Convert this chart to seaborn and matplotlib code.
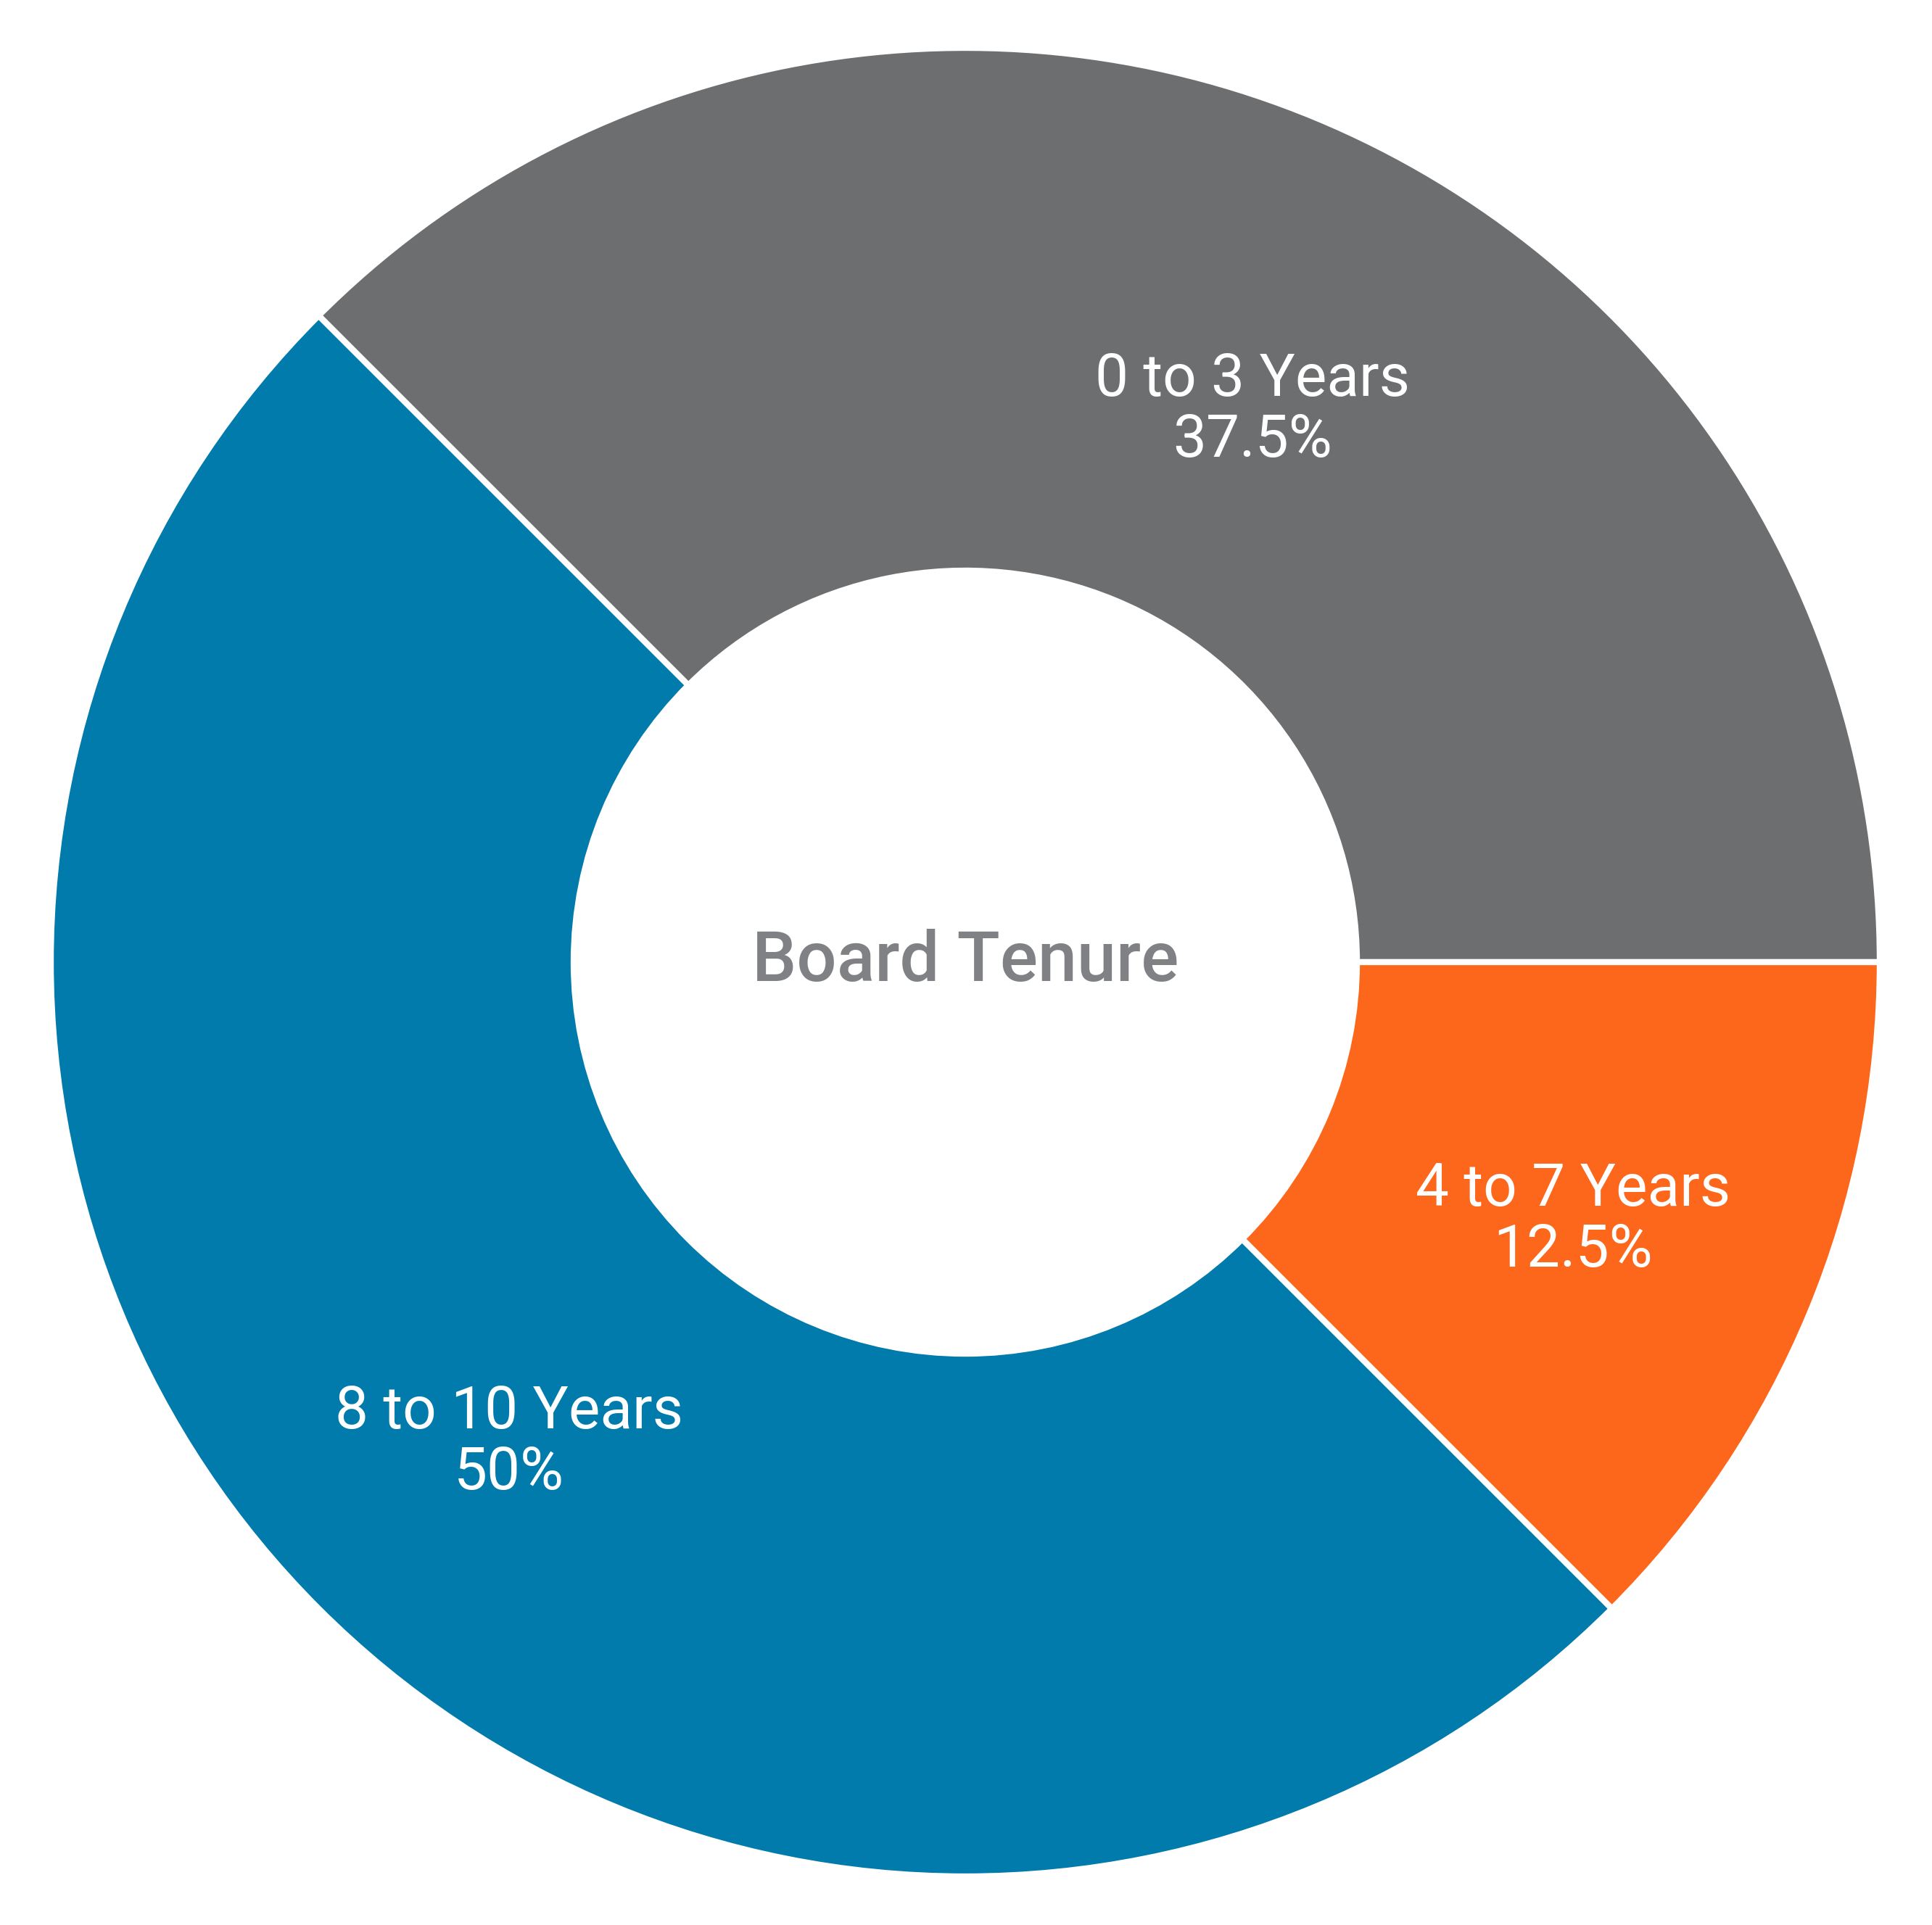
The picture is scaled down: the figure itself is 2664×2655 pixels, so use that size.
import numpy as np
import matplotlib
matplotlib.use("Agg")
import matplotlib.pyplot as plt
import seaborn as sns

# data
labels = ["0 to 3 Years", "8 to 10 Years", "4 to 7 Years"]
shares = [37.5, 50.0, 12.5]
pct_text = ["37.5%", "50%", "12.5%"]
colors = sns.color_palette(["#6d6e70", "#007bab", "#fd671b"])

sns.set_theme(style="white")
plt.rcParams["font.family"] = ["Roboto", "DejaVu Sans"]

W, H = 2664, 2655
fig = plt.figure(figsize=(W / 100, H / 100), dpi=100)
cx, cy, R = 1331, 1327, 1261
ax = fig.add_axes([(cx - R) / W, (H - cy - R) / H, 2 * R / W, 2 * R / H])

wedges, _ = ax.pie(shares, colors=colors, startangle=0, counterclock=True,
                   radius=1.0, wedgeprops=dict(width=1 - 540 / 1261,
                                               edgecolor="white", linewidth=6))
ax.set_xlim(-1, 1)
ax.set_ylim(-1, 1)
ax.set_aspect("equal")
ax.axis("off")

# label nudges (degrees) so text sits like the original
nudge = [-5, 1.5, -0.5]
rad = [0.68, 0.725, 0.722]
for w, lab, pct, dn, r in zip(wedges, labels, pct_text, nudge, rad):
    mid = np.deg2rad((w.theta1 + w.theta2) / 2 + dn)
    ax.text(r * np.cos(mid), r * np.sin(mid), lab + "\n" + pct,
            ha="center", va="center", color="white", fontsize=59,
            linespacing=1.1)

ax.text(0, 0, "Board Tenure", ha="center", va="center", color="#808184",
        fontsize=70, fontweight="medium")

fig.savefig("out.png", dpi=100, facecolor="white")
